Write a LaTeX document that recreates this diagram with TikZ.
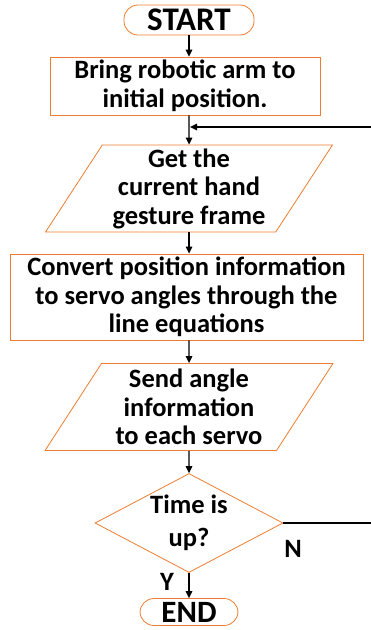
\documentclass[tikz,border=0pt]{standalone}
\usepackage{fontspec}
\setmainfont{Carlito}
\usetikzlibrary{shapes.geometric,arrows.meta}

\definecolor{boxline}{HTML}{ED7D31}
\newcommand{\flowfont}{\fontsize{26.5}{28.5}\selectfont\bfseries}

\tikzset{
  term/.style={draw=boxline, line width=0.8pt, rounded corners=14pt, inner sep=0pt,
    font=\fontsize{33}{34}\selectfont\bfseries},
  proc/.style={draw=boxline, line width=0.8pt, rectangle, align=center, inner sep=0pt, font=\flowfont},
  io/.style={draw=boxline, line width=0.8pt, trapezium, trapezium left angle=58,
    trapezium right angle=122, trapezium stretches=true, inner sep=0pt,
    minimum width=288pt, minimum height=87pt, align=center, font=\flowfont},
  dec/.style={draw=boxline, line width=0.8pt, diamond, inner sep=0pt,
    minimum width=188pt, minimum height=99pt},
  flow/.style={-{Triangle[length=7pt,width=6.5pt]}, line width=1.4pt},
  lbl/.style={font=\flowfont, inner sep=0pt},
}

\begin{document}
\begin{tikzpicture}[x=1pt,y=-1pt]
    \useasboundingbox (0,0) rectangle (370,630);

    \node[term, minimum width=130pt, minimum height=30pt] (start) at (189,20) {START};
    \node[proc, minimum width=270pt, minimum height=58pt] (bring) at (185,86) {Bring robotic arm to\\initial position.};
    \coordinate (merge) at (190,127);
    \node[io] (getframe) at (189,188.5) {Get the\\current hand\\gesture frame};
    \node[proc, minimum width=353pt, minimum height=86pt] (convert) at (186.5,297) {Convert position information\\to servo angles through the\\line equations};
    \node[io] (send) at (189,407) {Send angle\\information\\to each servo};
    % diamond kept at fixed size, question set on top of it
    \node[dec] (timeup) at (189,523) {};
    \node[lbl, align=center, font=\fontsize{26.5}{32.5}\selectfont\bfseries] (question) at (timeup.center) {Time is\\up?};
    \node[term, minimum width=98pt, minimum height=27pt, font=\fontsize{31}{32}\selectfont\bfseries] (end) at (189,612) {END};

    \node[lbl] (no) at (293,549) {N};
    \node[lbl] (yes) at (167,582) {Y};

    % main flow
    \draw[flow] (start.south) -- (start.south |- bring.north);
    \draw[flow] (start.south |- bring.south) -- (getframe.north);
    \draw[flow] (getframe.south) -- (getframe.south |- convert.north);
    \draw[flow] (getframe.south |- convert.south) -- (send.north);
    \draw[flow] (send.south) -- (timeup.north);
    \draw[flow] (timeup.south) -- (end.north);

    % loop back when time is not up
    \coordinate (loopa) at (376,523);
    \coordinate (loopb) at (376,127);
    \draw[flow] (timeup.east) -- (loopa) -- (loopb) -- (merge);
\end{tikzpicture}
\end{document}
